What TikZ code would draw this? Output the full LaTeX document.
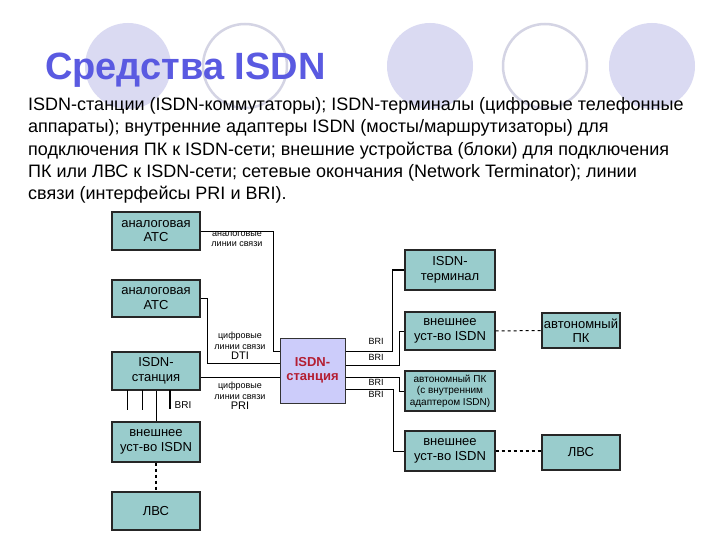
\documentclass[tikz,border=0pt]{standalone}
\usepackage{fontspec}
\setmainfont{Liberation Sans}
\definecolor{boxfill}{RGB}{153,204,204}
\definecolor{centfill}{RGB}{204,204,250}
\definecolor{titleblue}{RGB}{90,90,225}
\definecolor{circfill}{RGB}{218,218,242}
\definecolor{circline}{RGB}{212,212,228}
\definecolor{centtext}{RGB}{180,30,50}
\begin{document}
\begin{tikzpicture}[x=1pt,y=-1pt,
  box/.style={draw=black!85,line width=1.1pt,fill=boxfill,inner sep=0pt,align=center,font=\fontsize{13}{14.5}\selectfont},
  lbl/.style={inner sep=0pt,align=center,font=\fontsize{9}{10.5}\selectfont},
  bri/.style={inner sep=0pt,font=\fontsize{9}{10}\selectfont},
  conn/.style={draw=black,line width=0.9pt},
  dconn/.style={draw=black,line width=1pt,dashed},
  body/.style={anchor=base west,inner sep=0pt,font=\fontsize{18}{20}\selectfont}]
\useasboundingbox (0,0) rectangle (720,540);
\fill[white] (0,0) rectangle (720,540);
% background circles
\fill[circfill] (128,66) circle (43);
\draw[circline,line width=2.5pt,fill=white] (245,66) circle (42);
\fill[circfill] (430,66) circle (43);
\draw[circline,line width=2.5pt,fill=white] (545,66) circle (42);
\fill[circfill] (652,66) circle (43);
% title
\node[anchor=base west,inner sep=0pt,text=titleblue,font=\fontsize{38}{40}\selectfont\bfseries] (title) at (45,80) {Средства ISDN};
% body text
\node[body] (l1) at (28,111) {ISDN-станции (ISDN-коммутаторы); ISDN-терминалы (цифровые телефонные};
\node[body] (l2) at (28,133) {аппараты); внутренние адаптеры ISDN (мосты/маршрутизаторы) для};
\node[body] (l3) at (28,156) {подключения ПК к ISDN-сети; внешние устройства (блоки) для подключения};
\node[body] (l4) at (28,178) {ПК или ЛВС к ISDN-сети; сетевые окончания (Network Terminator); линии};
\node[body] (l5) at (28,200) {связи (интерфейсы PRI и BRI).};
% left column boxes
\node[box,minimum width=88pt,minimum height=38pt] (A1) at (156,231) {аналоговая\\АТС};
\node[box,minimum width=88pt,minimum height=37pt] (A2) at (156,298.5) {аналоговая\\АТС};
\node[box,minimum width=88pt,minimum height=38pt] (IS) at (156,371) {ISDN-\\станция};
\node[box,minimum width=88pt,minimum height=40pt] (EXL) at (156,442) {внешнее\\уст-во ISDN};
\node[box,minimum width=88pt,minimum height=38pt] (LANL) at (156,511) {ЛВС};
% centre
\node[draw=black!80,line width=1pt,fill=centfill,minimum width=65pt,minimum height=65pt,inner sep=0pt,align=center,text=centtext,font=\fontsize{13}{14.5}\selectfont\bfseries] (C) at (312.5,370.5) {ISDN-\\станция};
% right column
\node[box,minimum width=90pt,minimum height=40pt] (T) at (450,270) {ISDN-\\терминал};
\node[box,minimum width=90pt,minimum height=38pt] (E1) at (450,331) {внешнее\\уст-во ISDN};
\node[box,minimum width=90pt,minimum height=40pt,font=\fontsize{10}{11.5}\selectfont] (P) at (450,391) {автономный ПК\\(с внутренним\\адаптером ISDN)};
\node[box,minimum width=90pt,minimum height=40pt] (E2) at (450,451) {внешнее\\уст-во ISDN};
\node[box,minimum width=78pt,minimum height=35pt] (AP) at (581,330.5) {автономный\\ПК};
\node[box,minimum width=78pt,minimum height=35pt] (LANR) at (581,452.5) {ЛВС};
% left connectors
\coordinate (ca) at ([yshift=-14pt]C.north west);
\coordinate (cb) at ([yshift=-26pt]C.north west);
\coordinate (isr) at ([yshift=-6pt]IS.east);
\draw[conn] (A1.east) -- (273,231) |- (ca);
\draw[conn] (A2.east) -- (207,298.5) |- (cb);
\draw[conn] (isr) -- (isr -| C.west);
\node[lbl] (la) at (237,239) {аналоговые\\линии связи};
\node[lbl] (lb) at (240,346) {цифровые\\линии связи\\{\fontsize{11}{12}\selectfont DTI}};
\node[lbl] (lc) at (240,396) {цифровые\\линии связи\\{\fontsize{11}{12}\selectfont PRI}};
% lines below ISDN station
\draw[conn] (127,390) -- (127,410);
\draw[conn] (142,390) -- (142,410);
\draw[conn] (IS.south) -- (EXL.north);
\draw[conn,line width=2pt] (170,390) -- (170,409);
\node[bri,font=\fontsize{10}{11}\selectfont] (bl) at (183,405) {BRI};
\draw[dconn,line width=1.2pt] (EXL.south) -- (LANL.north);
% right connectors
\coordinate (c1) at ([yshift=-14pt]C.north east);
\coordinate (c2) at ([yshift=-28pt]C.north east);
\coordinate (c3) at ([yshift=-40pt]C.north east);
\coordinate (c4) at ([yshift=-52pt]C.north east);
\draw[conn] (c1) -| (392,270);
\draw[conn,line width=2pt] (392,270) -- (T.west);
\draw[conn] (c2) -| (399,331) -- (E1.west);
\draw[conn] (c3) -| (399,391) -- (P.west);
\draw[conn] (c4) -| (393,451) -- (E2.west);
\node[bri] (b1) at (376,341) {BRI};
\node[bri] (b2) at (376,357) {BRI};
\node[bri] (b3) at (376,382) {BRI};
\node[bri] (b4) at (376,394) {BRI};
\draw[dconn] (E1.east) -- (AP.west);
\draw[dconn,line width=1.6pt] (E2.east) -- (E2.east -| LANR.west);
\end{tikzpicture}
\end{document}
